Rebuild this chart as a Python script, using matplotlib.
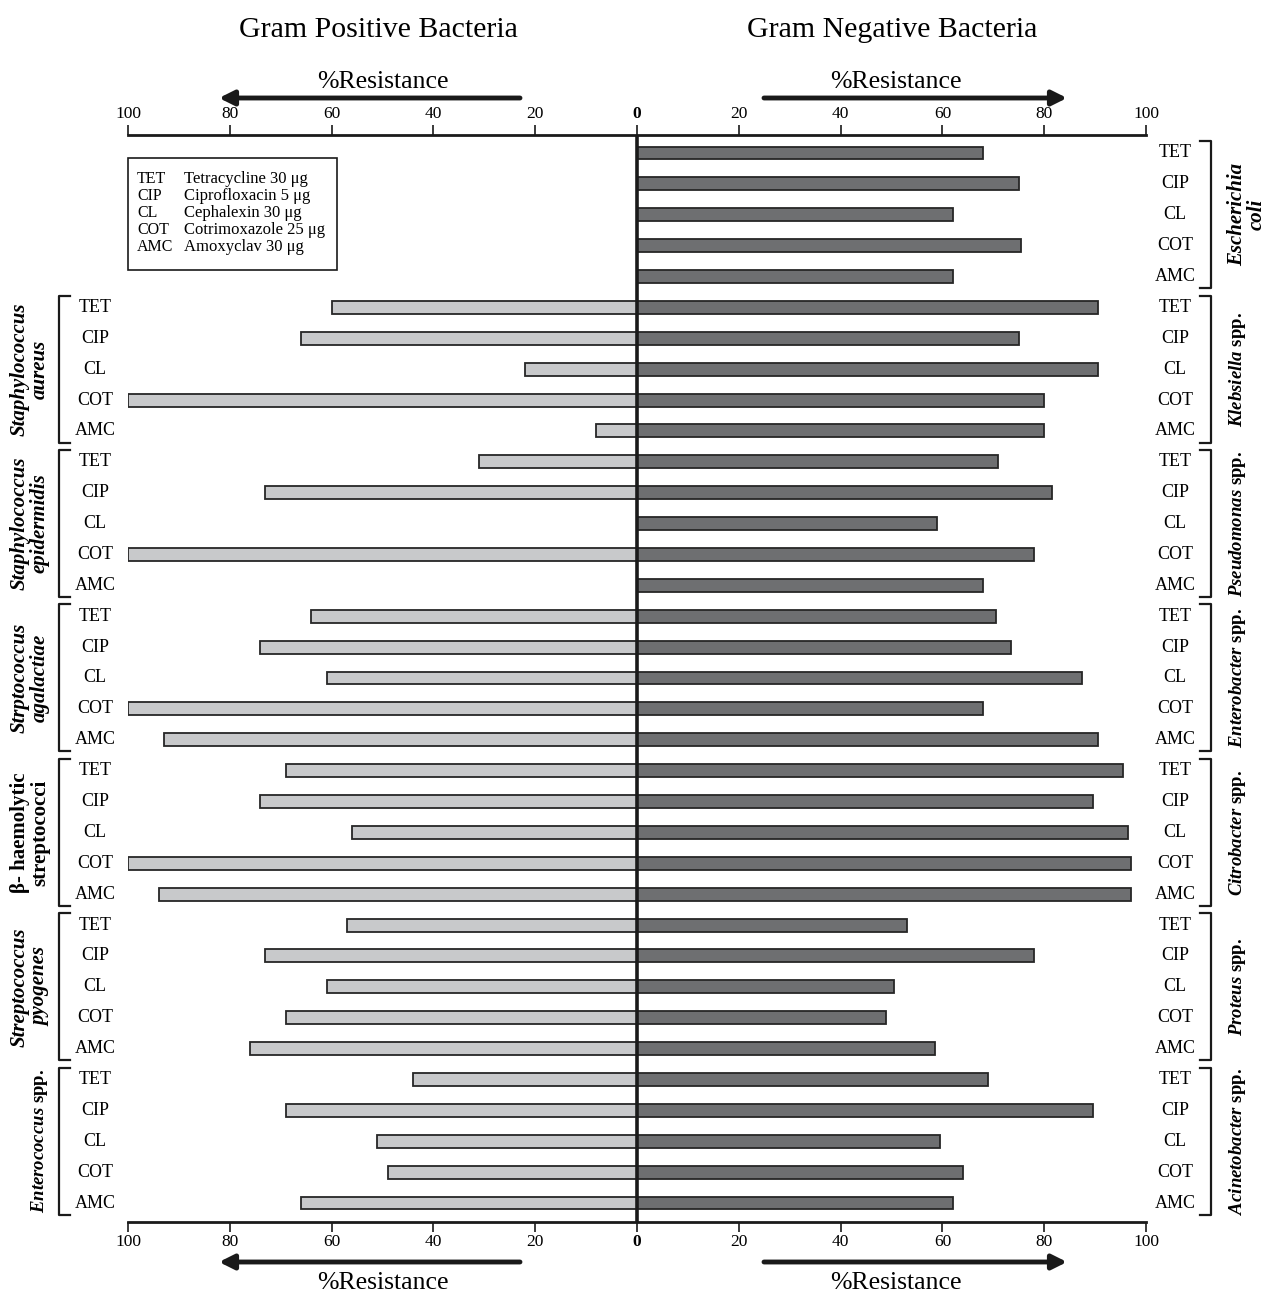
import numpy as np
import matplotlib
matplotlib.use('Agg')
import matplotlib.pyplot as plt
from matplotlib.patches import Rectangle

plt.rcParams['font.family'] = ['Liberation Serif', 'DejaVu Serif']
plt.rcParams['mathtext.fontset'] = 'custom'
plt.rcParams['mathtext.it'] = 'Liberation Serif:italic:bold'
plt.rcParams['mathtext.rm'] = 'Liberation Serif:bold'

# ---- data (% resistance) ----
drugs = ['TET', 'CIP', 'CL', 'COT', 'AMC']
drug_names = ['Tetracycline 30 \u03bcg', 'Ciprofloxacin 5 \u03bcg', 'Cephalexin 30 \u03bcg',
              'Cotrimoxazole 25 \u03bcg', 'Amoxyclav 30 \u03bcg']

pos_groups = ['Staphylococcus\naureus', 'Staphylococcus\nepidermidis', 'Strptococcus\nagalactiae',
              '\u03b2- haemolytic\nstreptococci', 'Streptococcus\npyogenes',
              r'$\mathit{Enterococcus}$ spp.']
pos_values = [
    [60, 66, 22, 100, 8],
    [31, 73, 0, 100, 0],
    [64, 74, 61, 100, 93],
    [69, 74, 56, 100, 94],
    [57, 73, 61, 69, 76],
    [44, 69, 51, 49, 66],
]

neg_groups = ['Escherichia\ncoli', r'$\mathit{Klebsiella}$ spp.', r'$\mathit{Pseudomonas}$ spp.',
              r'$\mathit{Enterobacter}$ spp.', r'$\mathit{Citrobacter}$ spp.',
              r'$\mathit{Proteus}$ spp.', r'$\mathit{Acinetobacter}$ spp.']
neg_values = [
    [68, 75, 62, 75.5, 62],
    [90.5, 75, 90.5, 80, 80],
    [71, 81.5, 59, 78, 68],
    [70.5, 73.5, 87.5, 68, 90.5],
    [95.5, 89.5, 96.5, 97, 97],
    [53, 78, 50.5, 49, 58.5],
    [69, 89.5, 59.5, 64, 62],
]

# ---- layout ----
W, H = 1265, 1295
fig = plt.figure(figsize=(W / 100, H / 100), dpi=100)
ax = fig.add_axes([128 / W, (H - 1222) / H, (1146 - 128) / W, (1222 - 135) / H])

def px2x(px):
    return (px - 638) / (1018 / 200)

def fy(py):
    return 1 - py / H

n_drug = len(drugs)
pitch = (1203 - 153) / 34
neg_rows = np.arange(len(neg_groups) * n_drug)
pos_rows = np.arange(len(pos_groups) * n_drug) + n_drug

edge = '#262626'
ax.barh(neg_rows, np.concatenate(neg_values), height=0.42, color='#6e6f71',
        edgecolor=edge, linewidth=1.3, zorder=3)
ax.barh(pos_rows, -np.concatenate(pos_values), height=0.42, color='#c8c9cb',
        edgecolor=edge, linewidth=1.3, zorder=3)
ax.axvline(0, color='#1a1a1a', lw=2.6, zorder=5)

ax.set_xlim(-100, 100)
ax.set_ylim(34 + (1222 - 1203) / pitch, -(153 - 135) / pitch)
ticks = np.arange(-100, 101, 20)
ax.set_xticks(ticks)
ax.set_xticklabels([str(abs(t)) for t in ticks])
ax.set_yticks([])
ax.tick_params(axis='x', top=True, bottom=True, labeltop=True, labelbottom=True,
               direction='out', length=7, width=1.2, pad=2, labelsize=12.5, color='#1a1a1a')
for t in ax.xaxis.get_major_ticks():
    if t.get_loc() == 0:
        t.label1.set_fontweight('bold')
        t.label2.set_fontweight('bold')
for side in ['left', 'right']:
    ax.spines[side].set_visible(False)
for side in ['top', 'bottom']:
    ax.spines[side].set_linewidth(2)
    ax.spines[side].set_color('#1a1a1a')

# row labels, brackets, group names
def group_block(rows_start, names, lab_px, br_px, serif_px, name2_px, name1_px):
    for g, name in enumerate(names):
        r0 = rows_start + g * n_drug
        r1 = r0 + n_drug - 1
        for i, d in enumerate(drugs):
            ax.text(px2x(lab_px), r0 + i, d, ha='center', va='center', fontsize=13, clip_on=False)
        ax.plot([px2x(serif_px), px2x(br_px), px2x(br_px), px2x(serif_px)],
                [r0 - 0.38, r0 - 0.38, r1 + 0.38, r1 + 0.38],
                color='#1a1a1a', lw=1.6, clip_on=False)
        style = 'normal' if name.startswith('\u03b2') or '$' in name else 'italic'
        two = '\n' in name
        ax.text(px2x(name2_px if two else name1_px), (r0 + r1) / 2, name, rotation=90,
                ha='center', va='center', fontsize=15 if two else 13.5, fontweight='bold',
                fontstyle=style, linespacing=1.0, multialignment='center', clip_on=False)

group_block(n_drug, pos_groups, 96, 60, 71, 31, 40)
group_block(0, neg_groups, 1176, 1212, 1201, 1248, 1238)

# titles and axis captions
fig.text(378 / W, fy(30), 'Gram Positive Bacteria', fontsize=21.5, ha='center', va='center')
fig.text(892 / W, fy(30), 'Gram Negative Bacteria', fontsize=21.5, ha='center', va='center')
for py_txt, py_arr in [(82, 98), (1283, 1262)]:
    fig.text(383 / W, fy(py_txt), '%Resistance', fontsize=18.5, ha='center', va='center')
    fig.text(896 / W, fy(py_txt), '%Resistance', fontsize=18.5, ha='center', va='center')
    for x0, x1 in [(521, 220), (765, 1068)]:
        ax.annotate('', xy=(px2x(x1), fy(py_arr)), xytext=(px2x(x0), fy(py_arr)),
                    xycoords=('data', 'figure fraction'), textcoords=('data', 'figure fraction'),
                    arrowprops=dict(arrowstyle='-|>', lw=3.5, color='#1a1a1a',
                                    mutation_scale=22, shrinkA=0, shrinkB=0))

# drug key box
fig.add_artist(Rectangle((128 / W, fy(270)), (337 - 128) / W, (270 - 158) / H,
                         transform=fig.transFigure, fill=False, lw=1.2, ec='#1a1a1a'))
for i, (d, nm) in enumerate(zip(drugs, drug_names)):
    fig.text(137 / W, fy(179 + i * 17), d, fontsize=11.5, ha='left', va='center')
    fig.text(184 / W, fy(179 + i * 17), nm, fontsize=12, ha='left', va='center')

fig.savefig('out.png', dpi=100)
